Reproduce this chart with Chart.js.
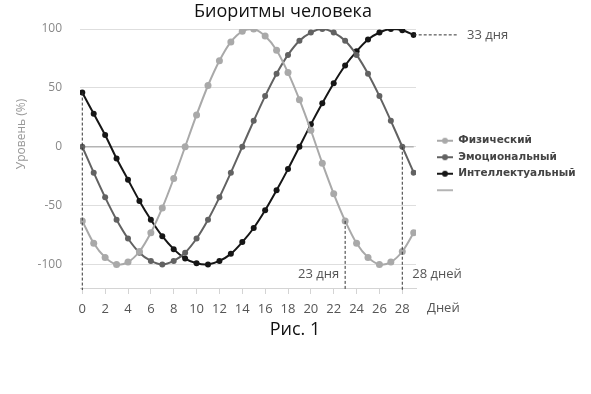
<!DOCTYPE html>
<html>
<head>
<meta charset="utf-8">
<script src="https://cdn.jsdelivr.net/npm/chart.js@4.4.0/dist/chart.umd.min.js"></script>
<style>
html, body { margin: 0; padding: 0; background: #fff; }
#wrap { width: 591px; height: 394px; }
</style>
</head>
<body>
<div id="wrap"><canvas id="bioChart"></canvas></div>
<script>
// days and the three rhythms (%)
var days = [0, 1, 2, 3, 4, 5, 6, 7, 8, 9, 10, 11, 12, 13, 14, 15, 16, 17, 18, 19, 20, 21, 22, 23, 24, 25, 26, 27, 28, 29];
var physical = [-63, -82, -94, -100, -98, -89, -73, -52, -27, 0, 27, 52, 73, 89, 98, 100, 94, 82, 63, 40, 14, -14, -40, -63, -82, -94, -100, -98, -89, -73];
var emotional = [0, -22, -43, -62, -78, -90, -97, -100, -97, -90, -78, -62, -43, -22, 0, 22, 43, 62, 78, 90, 97, 100, 97, 90, 78, 62, 43, 22, 0, -22];
var intellectual = [46, 28, 10, -10, -28, -46, -62, -76, -87, -95, -99, -100, -97, -91, -81, -69, -54, -37, -19, 0, 19, 37, 54, 69, 81, 91, 97, 100, 99, 95];
var zeroDays = [0, 29];
var zeroLevel = [0, 0];

var seriesNames = ['Физический', 'Эмоциональный', 'Интеллектуальный', ''];
var xTicks = [0, 2, 4, 6, 8, 10, 12, 14, 16, 18, 20, 22, 24, 26, 28];
var yTicks = [-100, -50, 0, 50, 100];

// period markers: day, level where the dashed line starts, label
var markDays = [0, 23, 28];
var markLevels = [46, -63, 0];
var markLabels = ['', '23 дня', '28 дней'];
var periodLabel = '33 дня';

var colors = ['#a9a9a9', '#626262', '#161616', '#b4b4b4'];

function pairs(xs, ys) {
    var out = [];
    for (var i = 0; i < xs.length; i++) out.push({ x: xs[i], y: ys[i] });
    return out;
}

function legendIcon(color, withDot) {
    var c = document.createElement('canvas');
    c.width = 16; c.height = 8;
    var g = c.getContext('2d');
    g.strokeStyle = color; g.lineWidth = 2;
    g.beginPath(); g.moveTo(0, 4); g.lineTo(16, 4); g.stroke();
    if (withDot) {
        g.fillStyle = color;
        g.beginPath(); g.arc(8, 4, 3, 0, Math.PI * 2); g.fill();
    }
    return c;
}
var icons = [legendIcon(colors[0], true), legendIcon(colors[1], true), legendIcon(colors[2], true), legendIcon(colors[3], false)];

var notes = {
    id: 'notes',
    afterLayout: function (chart) {
        var lg = chart.legend;
        var dx = 431 - lg.left, dy = -6;
        lg.left += dx; lg.right += dx; lg.top += dy; lg.bottom += dy;
    },
    afterDatasetsDraw: function (chart) {
        var ctx = chart.ctx, xs = chart.scales.x, ys = chart.scales.y;
        var bottom = chart.chartArea.bottom;
        ctx.save();
        ctx.strokeStyle = '#333';
        ctx.lineWidth = 1;
        ctx.setLineDash([3, 2]);
        for (var i = 0; i < markDays.length; i++) {
            var px = xs.getPixelForValue(markDays[i]);
            ctx.beginPath();
            ctx.moveTo(px, ys.getPixelForValue(markLevels[i]));
            ctx.lineTo(px, bottom + 2);
            ctx.stroke();
        }
        var last = days.length - 1;
        var hy = ys.getPixelForValue(intellectual[last]);
        ctx.beginPath();
        ctx.moveTo(xs.getPixelForValue(days[last]), hy);
        ctx.lineTo(458, hy);
        ctx.stroke();
        ctx.setLineDash([]);

        ctx.fillStyle = '#555';
        ctx.font = '13px "Open Sans"';
        ctx.textBaseline = 'middle';
        ctx.textAlign = 'right';
        ctx.fillText(markLabels[1], xs.getPixelForValue(markDays[1]) - 6, 274);
        ctx.textAlign = 'left';
        ctx.fillText(markLabels[2], xs.getPixelForValue(markDays[2]) + 10, 274);
        ctx.fillText(periodLabel, 467, hy);
        ctx.fillText('Дней', 427, 308);

        ctx.fillStyle = '#111';
        ctx.textAlign = 'center';
        ctx.font = '18px "Open Sans"';
        ctx.fillText('Биоритмы человека', 283, 12);
        ctx.fillText('Рис. 1', 295, 330);

        ctx.translate(22, 134);
        ctx.rotate(-Math.PI / 2);
        ctx.fillStyle = '#999';
        ctx.font = '12px "Open Sans"';
        ctx.fillText('Уровень (%)', 0, 0);
        ctx.restore();
    }
};

var ctx = document.getElementById('bioChart');
var bioChart = new Chart(ctx, {
    type: 'line',
    data: {
        datasets: [
            {
                label: seriesNames[0],
                data: pairs(days, physical),
                borderColor: colors[0], backgroundColor: colors[0],
                borderWidth: 2, pointRadius: 3.5, pointBorderWidth: 0, tension: 0.3
            },
            {
                label: seriesNames[1],
                data: pairs(days, emotional),
                borderColor: colors[1], backgroundColor: colors[1],
                borderWidth: 2, pointRadius: 3, pointBorderWidth: 0, tension: 0.3
            },
            {
                label: seriesNames[2],
                data: pairs(days, intellectual),
                borderColor: colors[2], backgroundColor: colors[2],
                borderWidth: 2, pointRadius: 3, pointBorderWidth: 0, tension: 0.3
            },
            {
                label: seriesNames[3],
                data: pairs(zeroDays, zeroLevel),
                borderColor: colors[3], backgroundColor: colors[3],
                borderWidth: 1.5, pointRadius: 0
            }
        ]
    },
    options: {
        responsive: true,
        maintainAspectRatio: false,
        animation: false,
        layout: { padding: { left: 38, right: 25, top: 29, bottom: 80 } },
        plugins: {
            title: { display: false },
            tooltip: { enabled: false },
            legend: {
                position: 'right',
                maxWidth: 150,
                labels: {
                    usePointStyle: true,
                    pointStyleWidth: 16,
                    padding: 6,
                    color: '#444',
                    font: { family: '"DejaVu Sans"', size: 10.5, weight: 'bold' },
                    generateLabels: function (chart) {
                        var items = Chart.defaults.plugins.legend.labels.generateLabels(chart);
                        items.forEach(function (it, i) { it.pointStyle = icons[i]; });
                        return items;
                    }
                }
            }
        },
        scales: {
            x: {
                type: 'linear',
                min: -0.2,
                max: 29.2,
                afterBuildTicks: function (s) { s.ticks = xTicks.map(function (v) { return { value: v }; }); },
                afterFit: function (s) { s.height = 26; },
                grid: { drawOnChartArea: false, drawTicks: true, tickLength: 6, color: '#d4d4d4' },
                border: { color: '#d4d4d4' },
                ticks: { padding: 7, color: '#555', font: { family: '"Open Sans"', size: 13 }, maxRotation: 0 }
            },
            y: {
                min: -120,
                max: 100,
                afterBuildTicks: function (s) { s.ticks = yTicks.map(function (v) { return { value: v }; }); },
                afterFit: function (s) { s.width = 42; },
                grid: { drawTicks: false, color: '#dedede' },
                border: { display: false },
                ticks: { padding: 18, color: '#888', font: { family: '"Open Sans"', size: 12 } }
            }
        }
    },
    plugins: [notes]
});
</script>
</body>
</html>
